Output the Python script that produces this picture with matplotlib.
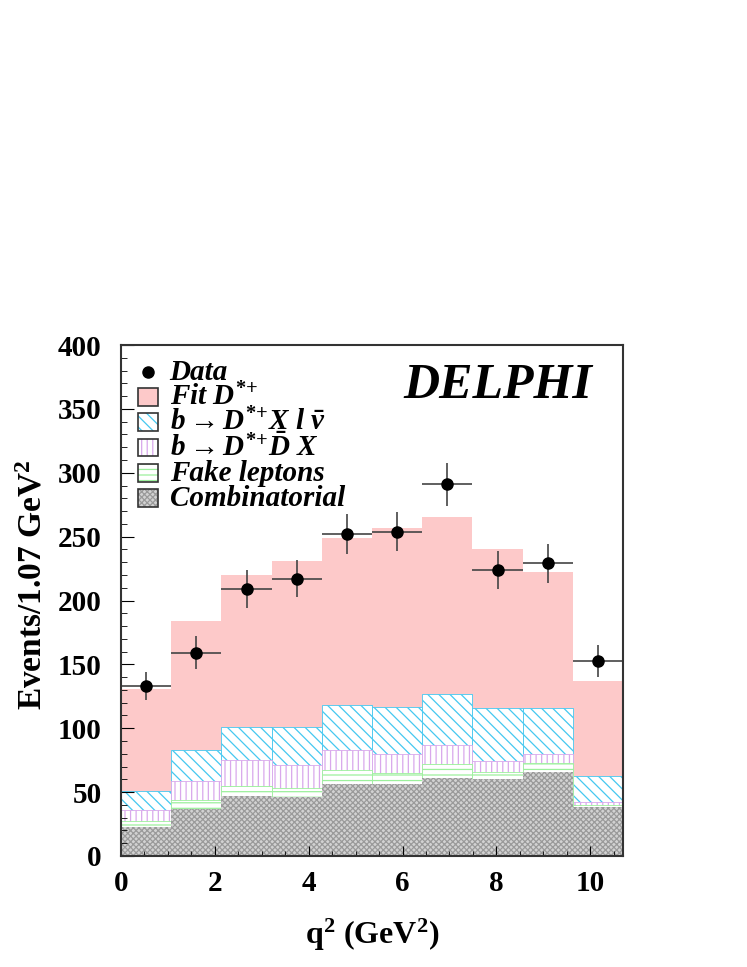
import numpy as np
import matplotlib
matplotlib.use("Agg")
import matplotlib.pyplot as plt
from matplotlib.patches import Rectangle

plt.rcParams['font.family'] = ['Liberation Serif', 'DejaVu Serif']
plt.rcParams['font.weight'] = 'bold'
plt.rcParams['axes.labelweight'] = 'bold'
plt.rcParams['mathtext.fontset'] = 'custom'
plt.rcParams['mathtext.rm'] = 'Liberation Serif:bold'
plt.rcParams['mathtext.bf'] = 'Liberation Serif:bold'
plt.rcParams['mathtext.it'] = 'Liberation Serif:bold:italic'
plt.rcParams['hatch.linewidth'] = 0.9

# q^2 bins (GeV^2), width 1.07
bin_width = 1.07
bin_edges = np.arange(10) * bin_width

# data points with errors
data_y = [133, 159, 209, 217, 252, 254, 291, 224, 229, 153]
data_err = [11, 13, 14.5, 14.5, 15.5, 15.5, 17, 15, 15, 12.5]

# cumulative tops of each component
fit_total = [131, 184, 220, 231, 249, 257, 265, 240, 222, 137]
semilep = [51, 83, 101, 101, 118, 117, 127, 116, 116, 63]
ddbar = [36, 59, 75, 71, 83, 80, 87, 74, 80, 42]
fake = [27, 44, 55, 53, 67, 65, 72, 66, 73, 40]
comb = [23, 37, 47, 46, 56, 56, 61, 60, 66, 38]

pink = '#fdc9c9'
blue = '#45c8f0'
purple = '#d9a8ec'
green = '#9cf09c'
grey_face = '#d2d2d2'
grey_hatch = '#9a9a9a'

fig = plt.figure(figsize=(7.47, 9.67), dpi=100)
ax = fig.add_axes([0.162, 0.1148, 0.672, 0.5284])

ax.bar(bin_edges, fit_total, width=bin_width, align='edge', color=pink, lw=0)
ax.bar(bin_edges, semilep, width=bin_width, align='edge', facecolor='white',
       edgecolor=blue, hatch='\\\\\\', lw=0.6)
ax.bar(bin_edges, ddbar, width=bin_width, align='edge', facecolor='white',
       edgecolor=purple, hatch='|||', lw=0.6)
ax.bar(bin_edges, fake, width=bin_width, align='edge', facecolor='white',
       edgecolor=green, hatch='---', lw=0.6)
ax.bar(bin_edges, comb, width=bin_width, align='edge', facecolor=grey_face,
       edgecolor=grey_hatch, hatch='xxxxxx', lw=0)

centers = bin_edges + bin_width / 2
ax.errorbar(centers, data_y, yerr=data_err, xerr=bin_width / 2, fmt='o',
            color='black', ms=8, ecolor='#444444', elinewidth=1.2, capsize=0)

ax.set_xlim(0, 10 * bin_width)
ax.set_ylim(0, 400)
ax.set_xticks(np.arange(0, 11, 2))
ax.set_xticks(np.arange(0, 10.7, 0.5), minor=True)
ax.set_yticks(np.arange(0, 401, 50))
ax.set_yticks(np.arange(0, 401, 10), minor=True)
ax.tick_params(which='both', direction='in', top=False, right=False,
               labelsize=21)
ax.tick_params(axis='y', which='major', length=9, pad=14)
ax.tick_params(axis='y', which='minor', length=4.5)
ax.tick_params(axis='x', which='major', length=7, pad=10)
ax.tick_params(axis='x', which='minor', length=3.5)
for s in ax.spines.values():
    s.set_linewidth(1.5)
    s.set_color('#333333')
    s.set_zorder(5)

ax.set_xlabel(r'q$^{2}$ (GeV$^{2}$)', fontsize=23, labelpad=14)
ax.set_ylabel(r'Events/1.07 GeV$^{2}$', fontsize=24)
ax.yaxis.set_label_coords(-0.145, 0.53)

ax.text(0.75, 0.92, 'DELPHI', transform=ax.transAxes, fontsize=36,
        fontweight='bold', fontstyle='italic', ha='center', va='center')

# legend, drawn by hand so rows sit evenly like the original
labels = [
    'Data',
    r'Fit $D^{*{+}}$',
    r'$b \rightarrow D^{*{+}}X\ l\ \bar{\nu}$',
    r'$b \rightarrow D^{*{+}}\bar{D}\ X$',
    'Fake leptons',
    'Combinatorial',
]
styles = [
    None,
    dict(facecolor=pink),
    dict(facecolor='white', edgecolor=blue, hatch='\\\\\\'),
    dict(facecolor='white', edgecolor=purple, hatch='|||'),
    dict(facecolor='white', edgecolor=green, hatch='---'),
    dict(facecolor=grey_face, edgecolor=grey_hatch, hatch='xxxxxx'),
]
row_top, row_step = 0.948, 0.0495
box_x, box_w, box_h = 0.034, 0.040, 0.035
for i, (lab, st) in enumerate(zip(labels, styles)):
    yc = row_top - i * row_step
    if st is None:
        ax.plot(box_x + box_w / 2, yc, 'o', color='black', ms=8,
                transform=ax.transAxes, clip_on=False)
    else:
        ax.add_patch(Rectangle((box_x, yc - box_h / 2), box_w, box_h,
                               transform=ax.transAxes, lw=0, zorder=4, **st))
        ax.add_patch(Rectangle((box_x, yc - box_h / 2), box_w, box_h,
                               transform=ax.transAxes, facecolor='none',
                               edgecolor='#333333', lw=1.2, zorder=4))
    ax.text(0.097, yc - 0.016, lab, transform=ax.transAxes, fontsize=21,
            fontweight='bold', fontstyle='italic', va='baseline', ha='left')

fig.savefig('out.png', dpi=100)
